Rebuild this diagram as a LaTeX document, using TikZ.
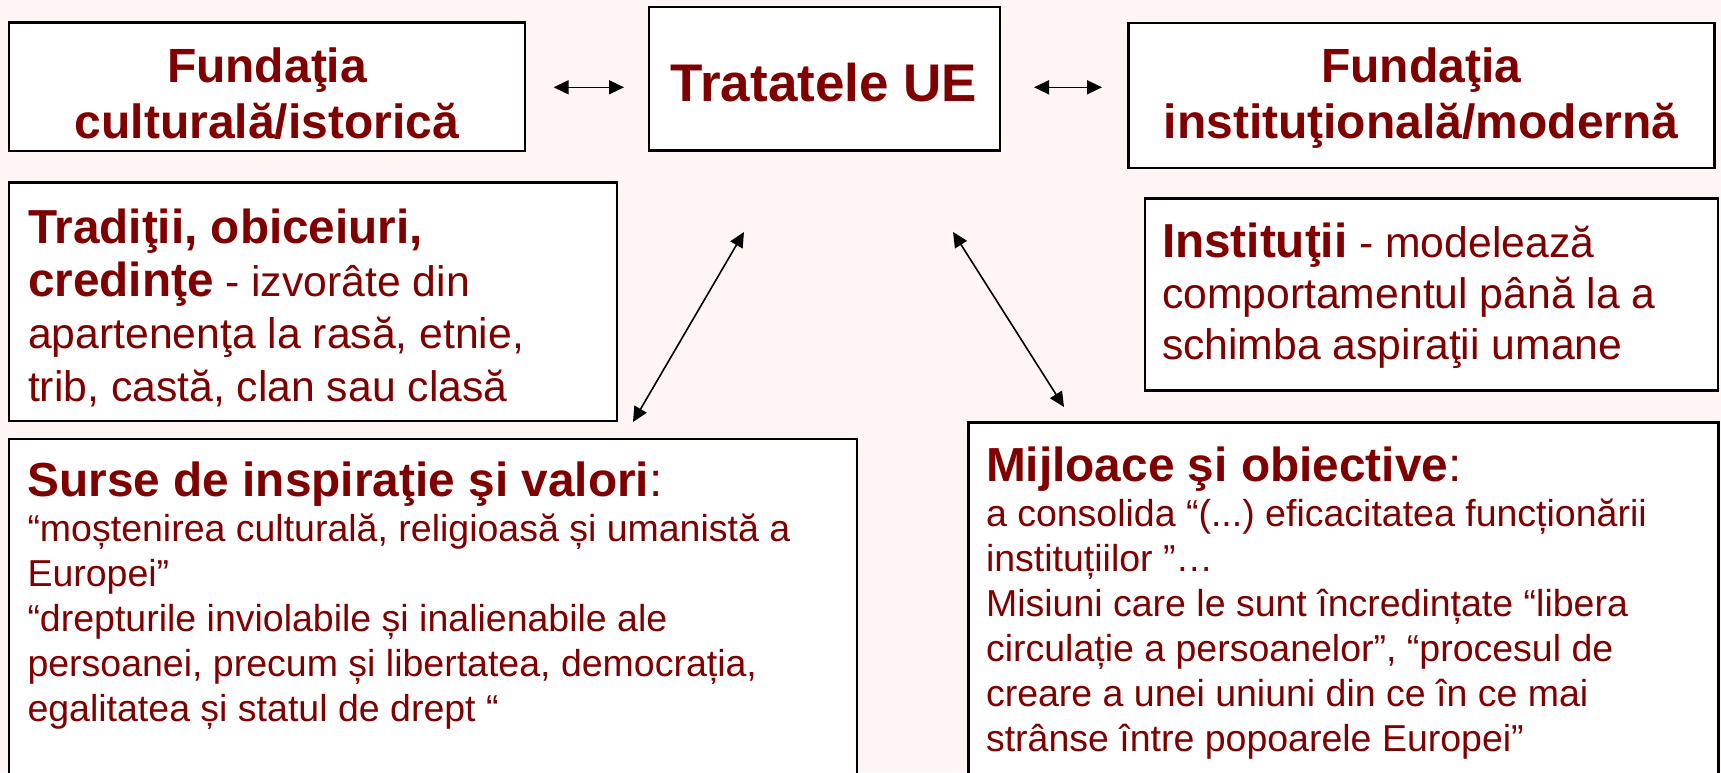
\documentclass[tikz,border=0pt]{standalone}
\usepackage{fontspec}
\setmainfont{Liberation Sans}
\usetikzlibrary{arrows.meta}
\definecolor{bgpink}{HTML}{FFF5F5}
\definecolor{maroon}{HTML}{800000}
\newcommand\stkl[1]{\begin{tabular}[t]{@{}l@{}}#1\end{tabular}}
\newcommand\stkc[1]{\begin{tabular}[t]{@{}c@{}}#1\end{tabular}}
\newcommand\fs[2]{\fontsize{#1}{#2}\selectfont}
\frenchspacing
\begin{document}
\begin{tikzpicture}[x=1pt,y=-1pt,
  box/.style={draw=black, line width=2.4pt, fill=white, inner sep=0pt, outer sep=0pt, anchor=north west},
  label/.style={inner sep=0pt, outer sep=0pt, text=maroon},
  arr/.style={{Triangle[length=15pt,width=14pt]}-{Triangle[length=15pt,width=14pt]}, line width=1.6pt, draw=black},
]
\fill[bgpink] (0,0) rectangle (1721,772);
\useasboundingbox (0,0) rectangle (1721,772);

% boxes
\node[box, minimum width=516pt, minimum height=128.5pt] (b1) at (9,22.5) {};
\node[box, minimum width=351pt, minimum height=143.5pt] (bT) at (649,7) {};
\node[box, minimum width=586pt, minimum height=145pt] (b3) at (1128.5,23) {};
\node[box, minimum width=608pt, minimum height=238.5pt] (bTr) at (9,182.5) {};
\node[box, minimum width=573pt, minimum height=192pt] (bIn) at (1145,198.3) {};
\node[box, minimum width=848pt, minimum height=380pt] (bSu) at (9,439) {};
\node[box, minimum width=750pt, minimum height=380pt] (bMi) at (968.5,422.5) {};

% texts
\node[label, anchor=base, font=\fs{48}{56}\bfseries] (t1) at (267,82) {\stkc{Fundaţia\\culturală/istorică}};
\node[label, anchor=base, font=\fs{53}{60}\bfseries] (tT) at (824,101.5) {Tratatele UE};
\node[label, anchor=base, font=\fs{48}{56}\bfseries] (t3) at (1421,82) {\stkc{Fundaţia\\instituţională/modernă}};

\node[label, anchor=base west, font=\fs{42.7}{52.5}] (tTr) at (28,243.5) {\stkl{%
{\fs{47.7}{52.5}\bfseries Tradiţii, obiceiuri,}\\
{\fs{47.7}{52.5}\bfseries credinţe} - izvorâte din\\
apartenenţa la rasă, etnie,\\
trib, castă, clan sau clasă}};

\node[label, anchor=base west, font=\fs{42.7}{51}] (tIn) at (1162,257.5) {\stkl{%
{\fs{47.7}{51}\bfseries Instituţii} - modelează\\
comportamentul până la a\\
schimba aspiraţii umane}};

\node[label, anchor=base west, font=\fs{37.5}{45}] (tSu) at (27.5,496.7) {\stkl{%
{\fs{47.8}{45}\bfseries Surse de inspiraţie şi valori}{\fs{47.8}{45}:}\\
“moștenirea culturală, religioasă și umanistă a\\
Europei”\\
“drepturile inviolabile și inalienabile ale\\
persoanei, precum și libertatea, democrația,\\
egalitatea și statul de drept “}};

\node[label, anchor=base west, font=\fs{37.5}{45}] (tMi) at (986,481.7) {\stkl{%
{\fs{47.8}{45}\bfseries Mijloace şi obiective}{\fs{47.8}{45}:}\\
a consolida “(...) eficacitatea funcționării\\
instituțiilor ”…\\
Misiuni care le sunt încredințate “libera\\
circulație a persoanelor”, “procesul de\\
creare a unei uniuni din ce în ce mai\\
strânse între popoarele Europei”}};

% connectors
\coordinate (hl1) at (553.6,87.3);
\coordinate (hl2) at (624,87.3);
\coordinate (hr1) at (1034,87.3);
\coordinate (hr2) at (1102,87.3);
\coordinate (dl1) at (744,232);
\coordinate (dl2) at (633,422);
\coordinate (dr1) at (953,232);
\coordinate (dr2) at (1064,407);
\draw[arr] (hl1) -- (hl2);
\draw[arr] (hr1) -- (hr2);
\draw[arr] (dl1) -- (dl2);
\draw[arr] (dr1) -- (dr2);
\end{tikzpicture}
\end{document}
